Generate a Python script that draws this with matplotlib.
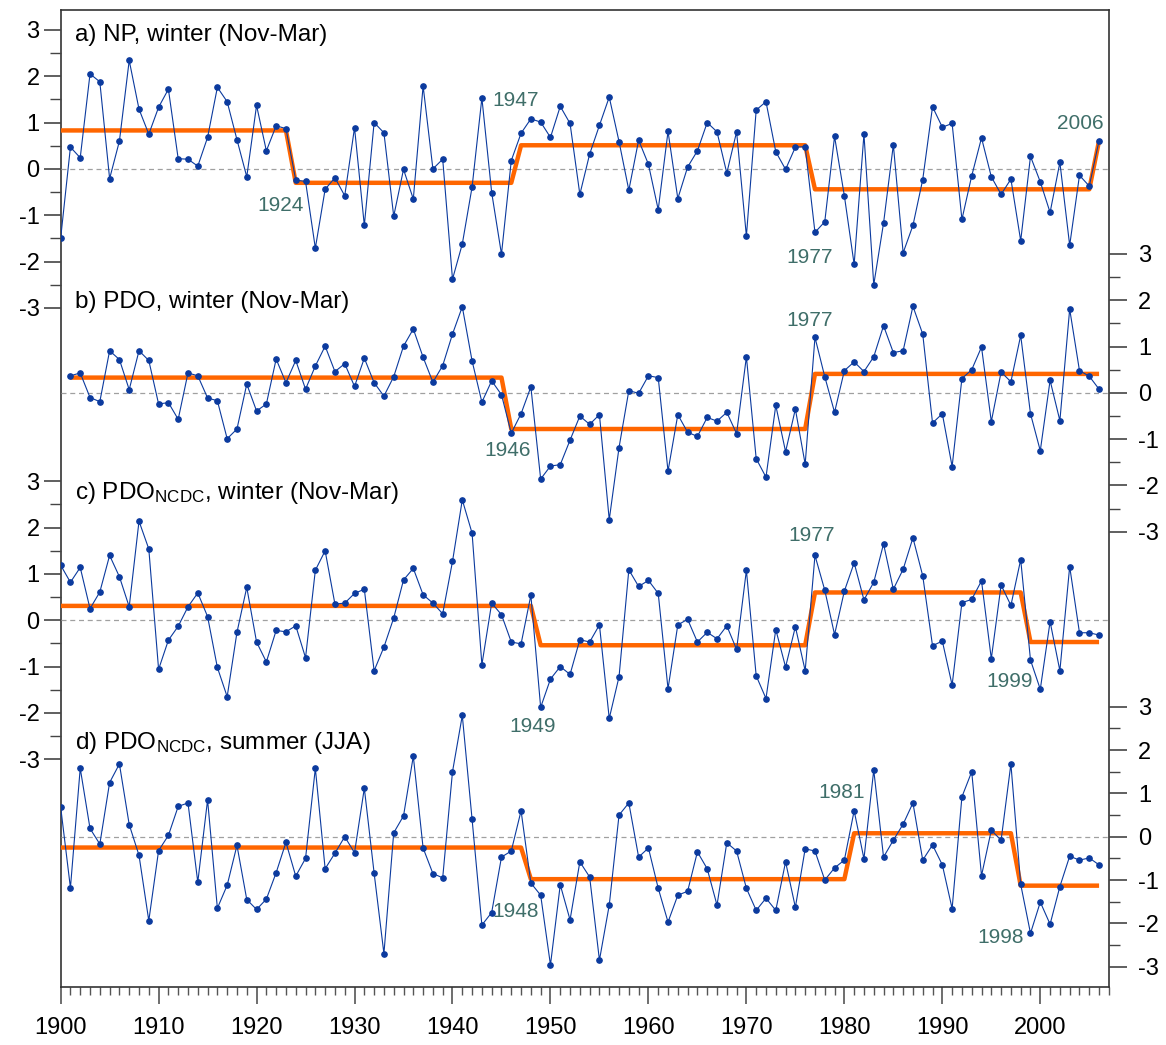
import matplotlib.pyplot as plt
import numpy as np

plt.rcParams["font.family"] = ["Liberation Sans", "DejaVu Sans"]
plt.rcParams["axes.unicode_minus"] = False
plt.rcParams["mathtext.default"] = "regular"

# %% data
years = np.arange(1900, 2007)

np_winter = [
    -1.50, 0.47, 0.24, 2.05, 1.88, -0.21, 0.60, 2.34, 1.29, 0.75,
    1.33, 1.72, 0.22, 0.21, 0.06, 0.68, 1.76, 1.45, 0.63, -0.17,
    1.37, 0.39, 0.93, 0.87, -0.24, -0.27, -1.71, -0.44, -0.19, -0.58,
    0.89, -1.22, 1.00, 0.78, -1.02, -0.01, -0.65, 1.79, 0.00, 0.21,
    -2.38, -1.62, -0.39, 1.53, -0.51, -1.84, 0.18, 0.77, 1.08, 1.01,
    0.68, 1.35, 0.98, -0.55, 0.32, 0.94, 1.55, 0.59, -0.46, 0.62,
    0.10, -0.88, 0.81, -0.64, 0.04, 0.39, 1.00, 0.80, -0.09, 0.80,
    -1.45, 1.27, 1.45, 0.37, -0.01, 0.47, 0.48, -1.37, -1.14, 0.70,
    -0.58, -2.06, 0.75, -2.50, -1.17, 0.52, -1.81, -1.22, -0.23, 1.34,
    0.90, 0.98, -1.09, -0.15, 0.67, -0.17, -0.55, -0.22, -1.55, 0.27,
    -0.28, -0.94, 0.14, -1.65, -0.14, -0.37, 0.61,
]

# PDO starts in 1901
pdo_winter = [
    0.37, 0.43, -0.10, -0.19, 0.91, 0.72, 0.07, 0.91, 0.70,
    -0.24, -0.21, -0.57, 0.43, 0.37, -0.11, -0.17, -0.99, -0.78, 0.19,
    -0.39, -0.24, 0.73, 0.22, 0.70, 0.08, 0.58, 1.01, 0.46, 0.63,
    0.14, 0.75, 0.22, -0.07, 0.35, 1.01, 1.38, 0.77, 0.23, 0.59,
    1.27, 1.86, 0.69, -0.20, 0.26, -0.04, -0.87, -0.45, 0.13, -1.86,
    -1.58, -1.55, -1.02, -0.50, -0.68, -0.47, -2.74, -1.18, 0.05, -0.01,
    0.37, 0.33, -1.69, -0.47, -0.85, -0.94, -0.53, -0.61, -0.42, -0.88,
    0.78, -1.42, -1.82, -0.27, -1.27, -0.35, -1.54, 1.20, 0.35, -0.42,
    0.48, 0.67, 0.46, 0.78, 1.45, 0.87, 0.91, 1.87, 1.27, -0.65,
    -0.45, -1.59, 0.31, 0.50, 0.99, -0.62, 0.45, 0.24, 1.24, -0.45,
    -1.25, 0.27, -0.60, 1.81, 0.48, 0.36, 0.08,
]

ncdc_winter = [
    1.19, 0.82, 1.14, 0.25, 0.61, 1.40, 0.94, 0.29, 2.14, 1.54,
    -1.06, -0.43, -0.13, 0.29, 0.59, 0.08, -1.02, -1.65, -0.26, 0.71,
    -0.47, -0.90, -0.22, -0.25, -0.12, -0.81, 1.08, 1.50, 0.35, 0.37,
    0.58, 0.67, -1.09, -0.58, 0.05, 0.87, 1.12, 0.55, 0.37, 0.14,
    1.27, 2.60, 1.88, -0.96, 0.37, 0.12, -0.47, -0.51, 0.54, -1.88,
    -1.27, -1.00, -1.17, -0.42, -0.47, -0.10, -2.12, -1.22, 1.09, 0.73,
    0.86, 0.58, -1.48, -0.10, 0.02, -0.47, -0.26, -0.40, -0.12, -0.63,
    1.08, -1.20, -1.69, -0.20, -1.01, -0.14, -1.09, 1.40, 0.65, -0.31,
    0.63, 1.24, 0.44, 0.82, 1.65, 0.67, 1.10, 1.78, 0.96, -0.55,
    -0.45, -1.40, 0.38, 0.45, 0.85, -0.83, 0.76, 0.32, 1.31, -0.86,
    -1.49, -0.03, -1.09, 1.16, -0.27, -0.27, -0.32,
]

ncdc_summer = [
    0.69, -1.18, 1.58, 0.19, -0.17, 1.25, 1.68, 0.28, -0.43, -1.94,
    -0.32, 0.03, 0.70, 0.78, -1.05, 0.85, -1.65, -1.12, -0.20, -1.45,
    -1.68, -1.44, -0.83, -0.13, -0.91, -0.50, 1.58, -0.74, -0.38, 0.00,
    -0.37, 1.12, -0.84, -2.70, 0.09, 0.48, 1.86, -0.26, -0.85, -0.95,
    1.50, 2.80, 0.40, -2.04, -1.75, -0.47, -0.33, 0.60, -1.07, -1.35,
    -2.96, -1.11, -1.92, -0.58, -0.93, -2.85, -1.58, 0.50, 0.78, -0.47,
    -0.26, -1.19, -1.97, -1.35, -1.26, -0.35, -0.74, -1.58, -0.14, -0.33,
    -1.19, -1.70, -1.42, -1.70, -0.58, -1.63, -0.28, -0.33, -1.00, -0.72,
    -0.54, 0.60, -0.51, 1.54, -0.47, -0.08, 0.29, 0.78, -0.54, -0.19,
    -0.65, -1.66, 0.92, 1.50, -0.90, 0.15, -0.08, 1.68, -1.10, -2.23,
    -1.51, -2.02, -1.15, -0.45, -0.54, -0.49, -0.65,
]

# regime shifts: first year of each regime and its mean level
np_shift_years = [1900, 1924, 1947, 1977, 2006]
np_shift_levels = [0.83, -0.30, 0.51, -0.44, 0.61]
pdo_shift_years = [1901, 1946, 1977]
pdo_shift_levels = [0.33, -0.78, 0.41]
ncdc_w_shift_years = [1900, 1949, 1977, 1999]
ncdc_w_shift_levels = [0.31, -0.54, 0.60, -0.47]
ncdc_s_shift_years = [1900, 1948, 1981, 1998]
ncdc_s_shift_levels = [-0.25, -0.98, 0.08, -1.13]

titles = [
    "a) NP, winter (Nov-Mar)",
    "b) PDO, winter (Nov-Mar)",
    "c) PDO$_{NCDC}$, winter (Nov-Mar)",
    "d) PDO$_{NCDC}$, summer (JJA)",
]


def regime_line(starts, levels, last=2006):
    xs, ys = [], []
    ends = [s - 1 for s in starts[1:]] + [last]
    for s, e, lev in zip(starts, ends, levels):
        xs += [s, e]
        ys += [lev, lev]
    return xs, ys


# %% layout
blue = "#0b3a9e"
orange = "#ff6600"
note_col = "#3f6e69"
fs = 15
tick_fs = 17

fig = plt.figure(figsize=(11.66, 10.45), dpi=100)
rect = [0.052, 0.0555, 0.899, 0.935]
ax0 = fig.add_axes(rect)
ax0.set_xlim(1900, 2007)
ax0.set_ylim(0, 1)
ax0.set_yticks([])
ax0.set_xticks(np.arange(1900, 2001, 10))
ax0.set_xticks(np.arange(1900, 2008, 1), minor=True)
ax0.tick_params(axis="x", which="major", length=12.2, width=1.2, color="#555555",
                labelsize=tick_fs, pad=9.5)
ax0.tick_params(axis="x", which="minor", length=5.8, width=1, color="#555555")
for sp in ax0.spines.values():
    sp.set_color("#333333")
    sp.set_linewidth(1.2)

panels = [
    (years, np_winter, np_shift_years, np_shift_levels, (-17.65, 3.43), "left", 2.89,
     [("1924", 1922.4, -0.78), ("1947", 1946.4, 1.48), ("1977", 1976.5, -1.91),
      ("2006", 2004.1, 0.99)]),
    (years[1:], pdo_winter, pdo_shift_years, pdo_shift_levels, (-12.83, 8.27), "right", 1.97,
     [("1977", 1976.5, 1.56), ("1946", 1945.6, -1.25)]),
    (years, ncdc_winter, ncdc_w_shift_years, ncdc_w_shift_levels, (-7.92, 13.18), "left", 2.75,
     [("1977", 1976.7, 1.83), ("1949", 1948.2, -2.30), ("1999", 1996.9, -1.33)]),
    (years, ncdc_summer, ncdc_s_shift_years, ncdc_s_shift_levels, (-3.47, 19.09), "right", 2.16,
     [("1981", 1979.7, 1.01), ("1948", 1946.4, -1.72), ("1998", 1996.0, -2.32)]),
]

for i, (x, vals, sy, sl, ylim, side, ty, notes) in enumerate(panels):
    ax = fig.add_axes(rect, label=f"panel{i}")
    ax.patch.set_visible(False)
    for sp in ax.spines.values():
        sp.set_visible(False)
    ax.set_xlim(1900, 2007)
    ax.set_ylim(*ylim)
    ax.set_xticks([])
    ax.axhline(0, color="#a0a0a0", lw=0.9, ls=(0, (4, 3)), zorder=1)
    rx, ry = regime_line(sy, sl)
    ax.plot(rx, ry, color=orange, lw=3.2, zorder=2, solid_capstyle="butt")
    ax.plot(x, vals, color=blue, lw=0.8, marker="o", ms=3.8, zorder=3)
    ax.set_yticks(np.arange(-3, 4, 1))
    ax.set_yticks(np.arange(-2.5, 3, 1), minor=True)
    if side == "right":
        ax.yaxis.tick_right()
        ax.tick_params(axis="y", which="major", length=13, pad=8)
    else:
        ax.tick_params(axis="y", which="major", length=12.2, pad=3)
    ax.tick_params(axis="y", which="major", labelsize=tick_fs, width=1.2, color="#444444")
    ax.tick_params(axis="y", which="minor", length=7.8, width=1, color="#444444")
    ax.text(1901.45, ty, titles[i], fontsize=17.5, ha="left", va="center")
    for lab, nx, ny in notes:
        ax.text(nx, ny, lab, fontsize=fs, color=note_col, ha="center", va="center")

fig.savefig("out.png", dpi=100)
